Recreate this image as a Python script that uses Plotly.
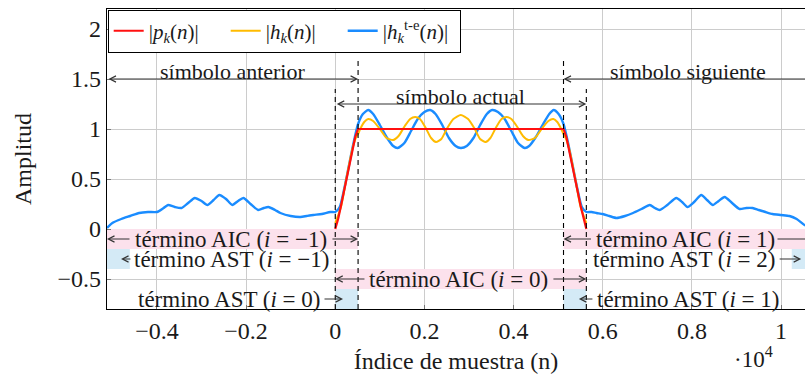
import plotly.graph_objects as go

# ---- data (sample index n, magnitudes) ----
n_p = [0, 64, 128, 192, 256, 320, 384, 448, 512,
       5120, 5184, 5248, 5312, 5376, 5440, 5504, 5568, 5632]
p_mag = [0.0, 0.10, 0.23, 0.37, 0.51, 0.65, 0.79, 0.92, 1.0,
         1.0, 0.92, 0.79, 0.65, 0.51, 0.37, 0.23, 0.10, 0.0]

n_h = [0, 128, 256, 384, 470, 512, 560, 650, 739, 850, 1000, 1150, 1299, 1420,
       1560, 1680, 1792, 1900, 2030, 2150, 2260, 2380, 2500, 2650, 2816, 2980,
       3130, 3250, 3372, 3480, 3600, 3730, 3840, 3950, 4070, 4210, 4333, 4480,
       4630, 4780, 4893, 4980, 5070, 5120, 5160, 5248, 5376, 5504, 5632]
h_mag = [0.06, 0.22, 0.52, 0.80, 0.92, 0.95, 1.00, 1.07, 1.10, 1.08, 1.00, 0.91,
         0.89, 0.93, 1.03, 1.10, 1.12, 1.10, 1.01, 0.91, 0.87, 0.90, 1.00, 1.10,
         1.14, 1.10, 1.00, 0.90, 0.87, 0.91, 1.01, 1.10, 1.12, 1.10, 1.03, 0.93,
         0.89, 0.91, 1.00, 1.08, 1.10, 1.07, 1.00, 0.95, 0.92, 0.80, 0.52, 0.22,
         0.06]

n_hte = [-5120, -5000, -4800, -4600, -4400, -4200, -4000, -3850, -3750, -3600,
         -3450, -3300, -3150, -3000, -2870, -2730, -2600, -2450, -2310, -2180,
         -2060, -1900, -1730, -1600, -1500, -1350, -1230, -1000, -780, -640,
         -490, -300, -110,
         0, 100, 200, 300, 400, 512, 620, 739, 850, 1000, 1150, 1300, 1400,
         1550, 1700, 1850, 2000, 2128, 2250, 2400, 2550, 2700, 2816, 2950,
         3100, 3250, 3400, 3520, 3650, 3800, 3950, 4100, 4250, 4350, 4500,
         4650, 4800, 4900, 5010, 5120, 5232, 5332, 5432, 5532, 5632,
         5750, 5860, 6000, 6150, 6310, 6500, 6680, 6870, 7055, 7170, 7280,
         7450, 7650, 7780, 7900, 8050, 8210, 8340, 8470, 8600, 8735, 8900,
         9070, 9220, 9360, 9500, 9650, 9810, 10000, 10190, 10350, 10526, 10752]
hte_mag = [0.01, 0.06, 0.10, 0.13, 0.16, 0.17, 0.17, 0.21, 0.24, 0.22,
           0.21, 0.26, 0.31, 0.28, 0.24, 0.29, 0.34, 0.30, 0.24, 0.28,
           0.31, 0.25, 0.19, 0.21, 0.22, 0.19, 0.16, 0.13, 0.12, 0.13,
           0.14, 0.15, 0.17,
           0.17, 0.22, 0.40, 0.62, 0.84, 1.05, 1.15, 1.19, 1.15, 1.04, 0.92,
           0.83, 0.81, 0.86, 0.98, 1.10, 1.17, 1.19, 1.15, 1.04, 0.91, 0.83,
           0.81, 0.83, 0.91, 1.04, 1.15, 1.19, 1.17, 1.10, 0.98, 0.86, 0.81,
           0.83, 0.92, 1.04, 1.15, 1.19, 1.15, 1.05, 0.84, 0.62, 0.40, 0.22,
           0.17,
           0.17, 0.16, 0.15, 0.13, 0.11, 0.13, 0.16, 0.20, 0.24, 0.21, 0.19,
           0.24, 0.31, 0.27, 0.22, 0.27, 0.34, 0.29, 0.24, 0.28, 0.32, 0.26,
           0.20, 0.21, 0.21, 0.19, 0.17, 0.15, 0.14, 0.13, 0.10, 0.04, 0.01]

x_tickvals = [-4000, -2000, 0, 2000, 4000, 6000, 8000, 10000]
x_ticktext = ["−0.4", "−0.2", "0", "0.2", "0.4", "0.6", "0.8", "1"]
y_tickvals = [-0.5, 0, 0.5, 1, 1.5, 2]
y_ticktext = ["−0.5", "0", "0.5", "1", "1.5", "2"]

# symbol boundaries
N_SYM = 5120
N_WIN = 5632
N_TR = 512

FONT = "Liberation Serif, DejaVu Serif, serif"
PINK = "#fce1ec"
LBLUE = "#d4eaf6"
ARROW = "#333333"
TXT = "#1a1a1a"
X0, X1 = -5120, 10537

fig = go.Figure()
fig.add_trace(go.Scatter(x=n_hte, y=hte_mag, mode="lines",
                         name="|<i>h</i><sub><i>k</i></sub><sup>t-e</sup>(<i>n</i>)|",
                         line=dict(color="#1a8cff", width=2.4, shape="spline", smoothing=0.6)))
fig.add_trace(go.Scatter(x=n_h, y=h_mag, mode="lines",
                         name="|<i>h</i><sub><i>k</i></sub>(<i>n</i>)|",
                         line=dict(color="#ffbb00", width=2.0, shape="spline", smoothing=0.6)))
fig.add_trace(go.Scatter(x=n_p, y=p_mag, mode="lines",
                         name="|<i>p</i><sub><i>k</i></sub>(<i>n</i>)|",
                         line=dict(color="#ff1010", width=2.2)))

# coloured term bands
bands = [
    (-5120, N_TR, -0.2, 0.0, PINK),            # AIC i=-1
    (0, N_WIN, -0.6, -0.4, PINK),              # AIC i=0
    (N_SYM, N_SYM + N_WIN, -0.2, 0.0, PINK),   # AIC i=1
    (-5120, -5120 + N_TR, -0.4, -0.2, LBLUE),  # AST i=-1
    (2 * N_SYM, 2 * N_SYM + N_TR, -0.4, -0.2, LBLUE),  # AST i=2
    (0, N_TR, -0.8, -0.6, LBLUE),              # AST i=0
    (N_SYM, N_WIN, -0.8, -0.6, LBLUE),         # AST i=1
]
for xa, xb, ya, yb, col in bands:
    fig.add_shape(type="rect", xref="x", yref="y", x0=xa, x1=xb, y0=ya, y1=yb,
                  fillcolor=col, line=dict(width=0), layer="between")

# dashed boundaries
for xv, ytop in [(0, 1.4), (N_WIN, 1.4), (N_TR, 1.68), (N_SYM, 1.68)]:
    fig.add_shape(type="line", xref="x", yref="y", x0=xv, x1=xv, y0=-0.8, y1=ytop,
                  line=dict(color="black", width=1.1, dash="5px,4px"), layer="above")


def arrow(tip, tail, y, both=False):
    d = dict(x=tip, y=y, ax=tail, ay=y, xref="x", yref="y", axref="x", ayref="y",
             text="", showarrow=True, arrowhead=5, arrowsize=1.1, arrowwidth=1.1,
             arrowcolor=ARROW, standoff=0, startstandoff=0)
    if both:
        d.update(arrowside="end+start", startarrowhead=5, startarrowsize=1.1)
    fig.add_annotation(**d)


def label(x, y, text, anchor="center", size=22):
    fig.add_annotation(x=x, y=y, xref="x", yref="y", text=text, showarrow=False,
                       xanchor=anchor, yanchor="middle", borderpad=0,
                       font=dict(family=FONT, size=size, color=TXT))


# symbol spans
arrow(N_TR, -5120, 1.5, both=True)
label(-2304, 1.575, "símbolo anterior")
arrow(N_WIN, 0, 1.25, both=True)
label(2816, 1.325, "símbolo actual")
arrow(N_SYM, 10650, 1.5)
label(7910, 1.575, "símbolo siguiente")

# AIC terms: arrows run from the band edges up to the label
arrow(-5120, -4582, -0.1)
arrow(N_TR, -96, -0.1)
label(-2340, -0.1, "término AIC (<i>i</i> = −1)", size=23)
arrow(0, 689, -0.5)
arrow(N_WIN, 4860, -0.5)
label(2775, -0.5, "término AIC (<i>i</i> = 0)", size=23)
arrow(N_SYM, 5770, -0.1)
fig.add_shape(type="line", xref="x", yref="y", x0=9920, x1=10752, y0=-0.1, y1=-0.1,
              line=dict(color=ARROW, width=1.1), layer="above")
label(7850, -0.1, "término AIC (<i>i</i> = 1)", size=23)

# AST terms
arrow(-4805, -4560, -0.3)
label(-4527, -0.3, "término AST (<i>i</i> = −1)", anchor="left", size=23)
arrow(10451, 9935, -0.3)
label(9913, -0.3, "término AST (<i>i</i> = 2)", anchor="right", size=23)
arrow(174, -275, -0.7)
label(-297, -0.7, "término AST (<i>i</i> = 0)", anchor="right", size=23)
arrow(5465, 5802, -0.7)
label(5848, -0.7, "término AST (<i>i</i> = 1)", anchor="left", size=23)

# axis multiplier
fig.add_annotation(x=0.957, y=-0.215, xref="paper", yref="paper", showarrow=False,
                   text="·10<sup>4</sup>", font=dict(family=FONT, size=23, color=TXT))

fig.update_layout(
    width=805, height=381,
    margin=dict(l=107, r=0, t=9, b=72),
    paper_bgcolor="white", plot_bgcolor="white",
    font=dict(family=FONT, size=24, color=TXT),
    showlegend=True,
    legend=dict(orientation="h", x=0.001, y=0.998, xanchor="left", yanchor="top",
                bgcolor="white", bordercolor="black", borderwidth=1,
                entrywidth=72, entrywidthmode="pixels",
                traceorder="reversed", font=dict(family=FONT, size=21, color=TXT)),
    xaxis=dict(range=[X0, X1], tickvals=x_tickvals, ticktext=x_ticktext,
               showgrid=True, gridcolor="#cccccc", gridwidth=1, zeroline=False,
               showline=True, linecolor="black", linewidth=1.2, mirror=True,
               ticks="inside", ticklen=4, tickcolor="#777",
               title=dict(text="Índice de muestra (n)", standoff=9,
                          font=dict(family=FONT, size=24, color=TXT))),
    yaxis=dict(range=[-0.8, 2.2], tickvals=y_tickvals, ticktext=y_ticktext,
               showgrid=True, gridcolor="#cccccc", gridwidth=1, zeroline=False,
               showline=True, linecolor="black", linewidth=1.2, mirror=True,
               ticks="inside", ticklen=4, tickcolor="#777",
               title=dict(text="Amplitud", standoff=19,
                          font=dict(family=FONT, size=24, color=TXT))),
)

fig.write_html("out.html")
